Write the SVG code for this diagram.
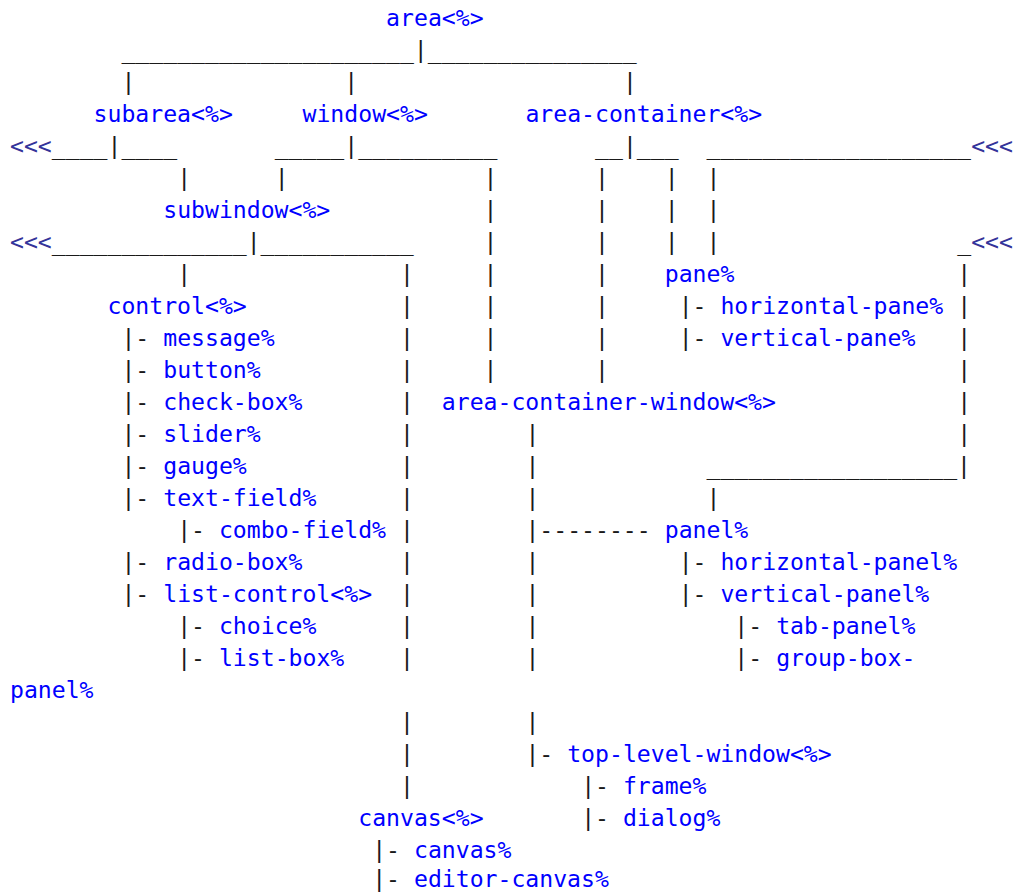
<svg xmlns="http://www.w3.org/2000/svg" width="1016" height="892" viewBox="0 0 1016 892">
<style>
text{font-family:"DejaVu Sans Mono","Liberation Mono",monospace;font-size:23.14px;white-space:pre}
.c{fill:#1a1a1a}
.a{fill:#33339a}
.n{fill:#0000ff}
</style>
<rect width="1016" height="892" fill="#ffffff"/>
<g id="connectors">
<text class="c" x="121.44" y="58">_____________________|_______________</text>
<text class="c" x="121.44" y="90">|</text><text class="c" x="344.32" y="90">|</text><text class="c" x="622.92" y="90">|</text>
<text class="a" x="10" y="154">&lt;&lt;&lt;</text><text class="c" x="51.79" y="154">____|____</text><text class="c" x="274.67" y="154">_____|__________</text><text class="c" x="595.06" y="154">__|___</text><text class="c" x="706.5" y="154">___________________</text><text class="a" x="971.17" y="154">&lt;&lt;&lt;</text>
<text class="c" x="177.16" y="186">|</text><text class="c" x="274.67" y="186">|</text><text class="c" x="483.62" y="186">|</text><text class="c" x="595.06" y="186">|</text><text class="c" x="664.71" y="186">|</text><text class="c" x="706.5" y="186">|</text>
<text class="c" x="483.62" y="218">|</text><text class="c" x="595.06" y="218">|</text><text class="c" x="664.71" y="218">|</text><text class="c" x="706.5" y="218">|</text>
<text class="a" x="10" y="250">&lt;&lt;&lt;</text><text class="c" x="51.79" y="250">______________|___________</text><text class="c" x="483.62" y="250">|</text><text class="c" x="595.06" y="250">|</text><text class="c" x="664.71" y="250">|</text><text class="c" x="706.5" y="250">|</text><text class="c" x="957.24" y="250">_</text><text class="a" x="971.17" y="250">&lt;&lt;&lt;</text>
<text class="c" x="177.16" y="282">|</text><text class="c" x="400.04" y="282">|</text><text class="c" x="483.62" y="282">|</text><text class="c" x="595.06" y="282">|</text><text class="c" x="957.24" y="282">|</text>
<text class="c" x="400.04" y="314">|</text><text class="c" x="483.62" y="314">|</text><text class="c" x="595.06" y="314">|</text><text class="c" x="678.64" y="314">|-</text><text class="c" x="957.24" y="314">|</text>
<text class="c" x="121.44" y="346">|-</text><text class="c" x="400.04" y="346">|</text><text class="c" x="483.62" y="346">|</text><text class="c" x="595.06" y="346">|</text><text class="c" x="678.64" y="346">|-</text><text class="c" x="957.24" y="346">|</text>
<text class="c" x="121.44" y="378">|-</text><text class="c" x="400.04" y="378">|</text><text class="c" x="483.62" y="378">|</text><text class="c" x="595.06" y="378">|</text><text class="c" x="957.24" y="378">|</text>
<text class="c" x="121.44" y="410">|-</text><text class="c" x="400.04" y="410">|</text><text class="c" x="957.24" y="410">|</text>
<text class="c" x="121.44" y="442">|-</text><text class="c" x="400.04" y="442">|</text><text class="c" x="525.41" y="442">|</text><text class="c" x="957.24" y="442">|</text>
<text class="c" x="121.44" y="474">|-</text><text class="c" x="400.04" y="474">|</text><text class="c" x="525.41" y="474">|</text><text class="c" x="706.5" y="474">__________________|</text>
<text class="c" x="121.44" y="506">|-</text><text class="c" x="400.04" y="506">|</text><text class="c" x="525.41" y="506">|</text><text class="c" x="706.5" y="506">|</text>
<text class="c" x="177.16" y="538">|-</text><text class="c" x="400.04" y="538">|</text><text class="c" x="525.41" y="538">|--------</text>
<text class="c" x="121.44" y="570">|-</text><text class="c" x="400.04" y="570">|</text><text class="c" x="525.41" y="570">|</text><text class="c" x="678.64" y="570">|-</text>
<text class="c" x="121.44" y="602">|-</text><text class="c" x="400.04" y="602">|</text><text class="c" x="525.41" y="602">|</text><text class="c" x="678.64" y="602">|-</text>
<text class="c" x="177.16" y="634">|-</text><text class="c" x="400.04" y="634">|</text><text class="c" x="525.41" y="634">|</text><text class="c" x="734.36" y="634">|-</text>
<text class="c" x="177.16" y="666">|-</text><text class="c" x="400.04" y="666">|</text><text class="c" x="525.41" y="666">|</text><text class="c" x="734.36" y="666">|-</text>
<text class="c" x="400.04" y="730">|</text><text class="c" x="525.41" y="730">|</text>
<text class="c" x="400.04" y="762">|</text><text class="c" x="525.41" y="762">|-</text>
<text class="c" x="400.04" y="794">|</text><text class="c" x="581.13" y="794">|-</text>
<text class="c" x="581.13" y="826">|-</text>
<text class="c" x="372.18" y="858">|-</text>
<text class="c" x="372.18" y="887">|-</text>
</g>
<g id="area"><text class="n" x="386.11" y="26">area&lt;%&gt;</text></g>
<g id="subarea"><text class="n" x="93.58" y="122">subarea&lt;%&gt;</text></g>
<g id="window"><text class="n" x="302.53" y="122">window&lt;%&gt;</text></g>
<g id="area-container"><text class="n" x="525.41" y="122">area-container&lt;%&gt;</text></g>
<g id="subwindow"><text class="n" x="163.23" y="218">subwindow&lt;%&gt;</text></g>
<g id="pane"><text class="n" x="664.71" y="282">pane%</text></g>
<g id="control"><text class="n" x="107.51" y="314">control&lt;%&gt;</text></g>
<g id="horizontal-pane"><text class="n" x="720.43" y="314">horizontal-pane%</text></g>
<g id="message"><text class="n" x="163.23" y="346">message%</text></g>
<g id="vertical-pane"><text class="n" x="720.43" y="346">vertical-pane%</text></g>
<g id="button"><text class="n" x="163.23" y="378">button%</text></g>
<g id="check-box"><text class="n" x="163.23" y="410">check-box%</text></g>
<g id="area-container-window"><text class="n" x="441.83" y="410">area-container-window&lt;%&gt;</text></g>
<g id="slider"><text class="n" x="163.23" y="442">slider%</text></g>
<g id="gauge"><text class="n" x="163.23" y="474">gauge%</text></g>
<g id="text-field"><text class="n" x="163.23" y="506">text-field%</text></g>
<g id="combo-field"><text class="n" x="218.95" y="538">combo-field%</text></g>
<g id="panel"><text class="n" x="664.71" y="538">panel%</text></g>
<g id="radio-box"><text class="n" x="163.23" y="570">radio-box%</text></g>
<g id="horizontal-panel"><text class="n" x="720.43" y="570">horizontal-panel%</text></g>
<g id="list-control"><text class="n" x="163.23" y="602">list-control&lt;%&gt;</text></g>
<g id="vertical-panel"><text class="n" x="720.43" y="602">vertical-panel%</text></g>
<g id="choice"><text class="n" x="218.95" y="634">choice%</text></g>
<g id="tab-panel"><text class="n" x="776.15" y="634">tab-panel%</text></g>
<g id="list-box"><text class="n" x="218.95" y="666">list-box%</text></g>
<g id="group-box-panel"><text class="n" x="776.15" y="666">group-box-</text><text class="n" x="10" y="698">panel%</text></g>
<g id="top-level-window"><text class="n" x="567.2" y="762">top-level-window&lt;%&gt;</text></g>
<g id="frame"><text class="n" x="622.92" y="794">frame%</text></g>
<g id="canvas-intf"><text class="n" x="358.25" y="826">canvas&lt;%&gt;</text></g>
<g id="dialog"><text class="n" x="622.92" y="826">dialog%</text></g>
<g id="canvas"><text class="n" x="413.97" y="858">canvas%</text></g>
<g id="editor-canvas"><text class="n" x="413.97" y="887">editor-canvas%</text></g>
</svg>
